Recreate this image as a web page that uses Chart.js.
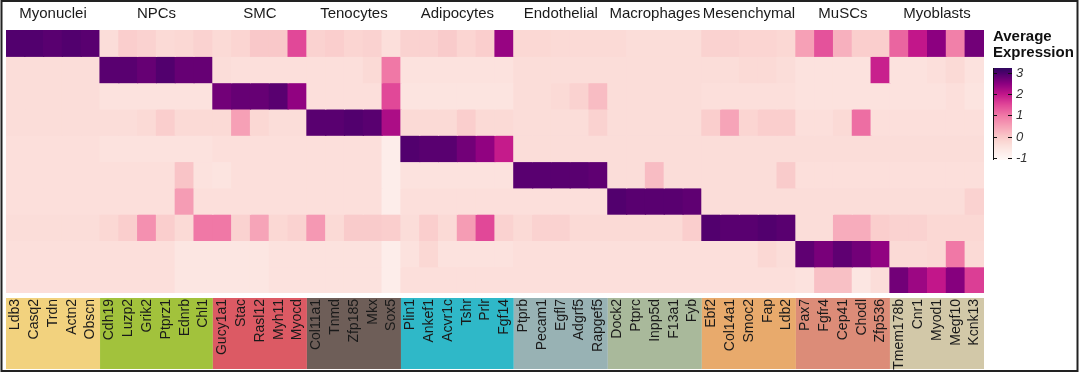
<!DOCTYPE html>
<html>
<head>
<meta charset="utf-8">
<script src="https://cdn.jsdelivr.net/npm/chart.js@4/dist/chart.umd.min.js"></script>
<style>
  html, body { margin: 0; padding: 0; background: #fff; }
  canvas { display: block; }
</style>
</head>
<body>
<canvas id="dotHeat" width="1080" height="376"></canvas>
<script>
// cell types (rows, top to bottom) and gene groups
const cellTypes = ['Myonuclei', 'NPCs', 'SMC', 'Tenocytes', 'Adipocytes', 'Endothelial',
  'Macrophages', 'Mesenchymal', 'MuSCs', 'Myoblasts'];
const groupSizes = [5, 6, 5, 5, 6, 5, 5, 5, 5, 5];
const groupColors = ['#f2d27e', '#a2c23c', '#dc5a64', '#6e5e58', '#2fb8c8',
  '#98b2b4', '#a9b99b', '#e8aa6c', '#dc8c78', '#d2c8a8'];

const genes = [
  'Ldb3', 'Casq2', 'Trdn', 'Actn2', 'Obscn',
  'Cdh19', 'Luzp2', 'Grik2', 'Ptprz1', 'Ednrb', 'Chl1',
  'Gucy1a1', 'Stac', 'Rasl12', 'Myh11', 'Myocd',
  'Col11a1', 'Tnmd', 'Zfp185', 'Mkx', 'Sox5',
  'Plin1', 'Ankef1', 'Acvr1c', 'Tshr', 'Prlr', 'Fgf14',
  'Ptprb', 'Pecam1', 'Egfl7', 'Adgrf5', 'Rapgef5',
  'Dock2', 'Ptprc', 'Inpp5d', 'F13a1', 'Fyb',
  'Ebf2', 'Col14a1', 'Smoc2', 'Fap', 'Ldb2',
  'Pax7', 'Fgfr4', 'Cep41', 'Chodl', 'Zfp536',
  'Tmem178b', 'Cnr1', 'Myod1', 'Megf10', 'Kcnk13'
];

// average expression per cell type, one value per gene (same order as genes)
const exprMyonuclei = [2.95, 2.95, 2.9, 2.95, 2.9,  -0.35, -0.1, -0.15, -0.3, -0.25, -0.15,
  -0.3, -0.2, 0.0, 0.0, 1.5,  -0.15, -0.1, -0.2, -0.15, -0.4,  -0.15, -0.15, -0.05, -0.2, -0.1, 2.4,
  -0.25, -0.25, -0.3, -0.3, -0.3,  -0.3, -0.35, -0.35, -0.35, -0.35,  -0.15, -0.15, -0.2, -0.2, -0.25,
  0.5, 1.4, 0.3, -0.1, -0.1,  1.2, 2.0, 2.5, 0.9, 2.7];
const exprNPCs = [-0.35, -0.35, -0.35, -0.35, -0.35,  2.9, 2.9, 2.8, 2.95, 2.8, 2.8,
  -0.35, -0.4, -0.4, -0.4, -0.4,  -0.4, -0.4, -0.4, -0.3, 1.0,  -0.45, -0.45, -0.45, -0.45, -0.45, -0.45,
  -0.35, -0.35, -0.35, -0.35, -0.35,  -0.35, -0.35, -0.35, -0.35, -0.35,  -0.35, -0.35, -0.3, -0.3, -0.35,
  -0.45, -0.45, -0.45, -0.45, 1.9,  -0.45, -0.45, -0.4, -0.3, -0.45];
const exprSMC = [-0.35, -0.35, -0.35, -0.35, -0.35,  -0.45, -0.45, -0.45, -0.45, -0.45, -0.45,
  2.7, 2.8, 2.8, 2.9, 2.45,  -0.4, -0.4, -0.4, -0.4, 1.5,  -0.5, -0.5, -0.5, -0.5, -0.5, -0.5,
  -0.35, -0.35, -0.3, -0.15, 0.15,  -0.35, -0.35, -0.35, -0.35, -0.35,  -0.4, -0.4, -0.4, -0.4, -0.4,
  -0.45, -0.45, -0.45, -0.45, -0.45,  -0.45, -0.45, -0.45, -0.4, -0.5];
const exprTenocytes = [-0.35, -0.35, -0.35, -0.35, -0.35,  -0.35, -0.35, -0.3, -0.1, -0.3, -0.3,
  -0.3, 0.5, -0.25, -0.35, -0.35,  2.9, 2.9, 2.95, 2.9, 2.2,  -0.3, -0.3, -0.3, -0.1, -0.3, -0.3,
  -0.35, -0.35, -0.35, -0.35, -0.15,  -0.35, -0.35, -0.35, -0.35, -0.35,  -0.1, 0.45, -0.2, -0.1, -0.1,
  -0.4, -0.4, -0.3, 1.1, -0.4,  -0.4, -0.4, -0.4, -0.4, -0.4];
const exprAdipocytes = [-0.4, -0.4, -0.4, -0.4, -0.4,  -0.45, -0.45, -0.45, -0.45, -0.45, -0.45,
  -0.4, -0.4, -0.4, -0.4, -0.4,  -0.4, -0.4, -0.4, -0.4, -0.75,  2.95, 2.9, 2.9, 2.7, 2.45, 1.95,
  -0.35, -0.35, -0.35, -0.35, -0.35,  -0.35, -0.35, -0.35, -0.35, -0.35,  -0.35, -0.35, -0.35, -0.35, -0.35,
  -0.35, -0.35, -0.35, -0.35, -0.35,  -0.35, -0.35, -0.35, -0.35, -0.35];
const exprEndothelial = [-0.4, -0.4, -0.4, -0.4, -0.4,  -0.4, -0.4, -0.4, -0.4, 0.05, -0.45,
  -0.5, -0.4, -0.4, -0.4, -0.4,  -0.4, -0.4, -0.4, -0.4, -0.75,  -0.45, -0.45, -0.45, -0.45, -0.45, -0.45,
  2.9, 2.9, 2.9, 2.9, 2.85,  -0.35, -0.35, 0.15, -0.35, -0.35,  -0.35, -0.35, -0.35, -0.35, -0.05,
  -0.4, -0.4, -0.4, -0.4, -0.4,  -0.4, -0.4, -0.4, -0.4, -0.4];
const exprMacrophages = [-0.4, -0.4, -0.4, -0.4, -0.4,  -0.4, -0.4, -0.4, -0.4, 0.55, -0.4,
  -0.4, -0.4, -0.4, -0.4, -0.4,  -0.4, -0.4, -0.4, -0.4, -0.75,  -0.4, -0.4, -0.4, -0.4, -0.4, -0.4,
  -0.4, -0.4, -0.4, -0.4, -0.4,  2.95, 2.9, 2.9, 2.9, 2.85,  -0.35, -0.35, -0.35, -0.35, -0.35,
  -0.35, -0.35, -0.35, -0.35, -0.35,  -0.35, -0.35, -0.35, -0.35, -0.15];
const exprMesenchymal = [-0.35, -0.35, -0.35, -0.35, -0.35,  -0.25, -0.1, 0.7, -0.1, -0.3, 1.0,
  1.0, -0.15, 0.45, -0.25, -0.15,  0.6, -0.3, -0.05, -0.05, -0.1,  -0.35, -0.1, -0.3, 0.55, 1.5, -0.15,
  -0.3, -0.15, -0.15, -0.3, -0.3,  -0.3, -0.3, -0.3, -0.3, -0.1,  2.95, 2.9, 2.9, 2.95, 2.9,
  -0.35, -0.35, 0.35, 0.35, -0.1,  -0.15, -0.15, -0.25, -0.25, -0.25];
const exprMuSCs = [-0.4, -0.4, -0.4, -0.4, -0.4,  -0.4, -0.4, -0.4, -0.4, -0.55, -0.55,
  -0.55, -0.55, -0.55, -0.45, -0.45,  -0.45, -0.45, -0.45, -0.45, -0.75,  -0.45, -0.25, -0.45, -0.45, -0.45, -0.45,
  -0.4, -0.4, -0.4, -0.4, -0.4,  -0.4, -0.4, -0.4, -0.4, -0.4,  -0.4, -0.4, -0.4, -0.25, -0.35,
  2.85, 2.65, 2.85, 2.7, 2.45,  -0.3, -0.3, -0.25, 1.0, -0.3];
const exprMyoblasts = [-0.4, -0.4, -0.4, -0.4, -0.4,  -0.4, -0.4, -0.4, -0.4, -0.55, -0.55,
  -0.55, -0.55, -0.55, -0.45, -0.45,  -0.45, -0.45, -0.45, -0.45, -0.75,  -0.4, -0.4, -0.4, -0.4, -0.4, -0.4,
  -0.4, -0.4, -0.4, -0.4, -0.4,  -0.4, -0.4, -0.4, -0.4, -0.4,  -0.4, -0.4, -0.4, -0.4, -0.4,
  -0.45, 0.1, 0.1, -0.55, -0.35,  2.7, 2.35, 2.0, 2.55, 1.6];

const exprRows = [exprMyonuclei, exprNPCs, exprSMC, exprTenocytes, exprAdipocytes,
  exprEndothelial, exprMacrophages, exprMesenchymal, exprMuSCs, exprMyoblasts];

const legendTicks = [3, 2, 1, 0, -1];

// colour ramp, white -> pink -> magenta -> dark purple
const ramp = [
  [-1.1, [255, 250, 248]],
  [-0.5, [252, 228, 224]],
  [-0.25, [251, 216, 212]],
  [0, [249, 200, 201]],
  [0.5, [246, 160, 182]],
  [1, [240, 120, 166]],
  [1.5, [225, 72, 152]],
  [2, [194, 22, 138]],
  [2.5, [140, 0, 128]],
  [3, [76, 0, 108]],
  [3.3, [40, 10, 90]]
];

function expColor(v) {
  if (v <= ramp[0][0]) return 'rgb(' + ramp[0][1].join(',') + ')';
  for (let i = 1; i < ramp.length; i++) {
    if (v <= ramp[i][0]) {
      const [v0, c0] = ramp[i - 1];
      const [v1, c1] = ramp[i];
      const t = (v - v0) / (v1 - v0);
      const c = c0.map((a, k) => Math.round(a + (c1[k] - a) * t));
      return 'rgb(' + c.join(',') + ')';
    }
  }
  return 'rgb(' + ramp[ramp.length - 1][1].join(',') + ')';
}

const datasets = exprRows.map((row, r) => ({
  label: cellTypes[r],
  data: genes.map(() => 1),
  backgroundColor: row.map(expColor),
  borderWidth: 0,
  inflateAmount: 0.6,
  barPercentage: 1,
  categoryPercentage: 1
}));

// group start/end indices on the gene axis
const groupRanges = [];
let start = 0;
groupSizes.forEach(n => {
  groupRanges.push([start, start + n - 1]);
  start += n;
});

const heatDecor = {
  id: 'heatDecor',
  beforeDraw(chart) {
    const ctx = chart.ctx;
    const x = chart.scales.x;
    const half = (x.getPixelForValue(1) - x.getPixelForValue(0)) / 2;
    ctx.save();
    groupRanges.forEach(([a, b], i) => {
      const x0 = x.getPixelForValue(a) - half;
      const x1 = x.getPixelForValue(b) + half;
      ctx.fillStyle = groupColors[i];
      ctx.fillRect(x0, chart.chartArea.bottom + 5, x1 - x0, 71);
    });
    ctx.restore();
  },
  afterDraw(chart) {
    const ctx = chart.ctx;
    const x = chart.scales.x;
    const area = chart.chartArea;
    ctx.save();

    // cell type names above the heatmap
    ctx.fillStyle = '#1a1a1a';
    ctx.font = '15px "Liberation Sans", Arial, sans-serif';
    ctx.textAlign = 'center';
    ctx.textBaseline = 'middle';
    groupRanges.forEach(([a, b], i) => {
      const cx = (x.getPixelForValue(a) + x.getPixelForValue(b)) / 2;
      ctx.fillText(cellTypes[i], cx, 14);
    });

    // legend title
    const lx = area.right + 9;
    ctx.textAlign = 'left';
    ctx.font = 'bold 15px "Liberation Sans", Arial, sans-serif';
    ctx.fillStyle = '#111';
    ctx.fillText('Average', lx, 37);
    ctx.fillText('Expression', lx, 53);

    // colour bar
    const barTop = 68, barBot = 160, barW = 19;
    const vTop = 3.24, vBot = -1.1;
    const yOf = v => barTop + (vTop - v) / (vTop - vBot) * (barBot - barTop);
    for (let y = barTop; y < barBot; y++) {
      const v = vTop - (y + 0.5 - barTop) / (barBot - barTop) * (vTop - vBot);
      ctx.fillStyle = expColor(v);
      ctx.fillRect(lx, y, barW, 1);
    }
    ctx.strokeStyle = '#111';
    ctx.lineWidth = 1;
    ctx.beginPath();
    ctx.moveTo(lx + 0.5, barTop);
    ctx.lineTo(lx + 0.5, barBot);
    ctx.stroke();
    ctx.font = 'italic 13px "Liberation Sans", Arial, sans-serif';
    ctx.fillStyle = '#333';
    legendTicks.forEach(t => {
      const y = Math.round(yOf(t)) + 0.5;
      ctx.beginPath();
      ctx.moveTo(lx, y); ctx.lineTo(lx + 4, y);
      ctx.moveTo(lx + barW - 4, y); ctx.lineTo(lx + barW, y);
      ctx.stroke();
      ctx.fillText(String(t), lx + barW + 4, y);
    });

    // outer frame
    ctx.strokeStyle = '#222';
    ctx.lineWidth = 2;
    ctx.strokeRect(1.5, 1, 1076, 370);
    ctx.restore();
  }
};

new Chart(document.getElementById('dotHeat'), {
  type: 'bar',
  data: { labels: genes, datasets: datasets },
  options: {
    responsive: false,
    animation: false,
    devicePixelRatio: 1,
    layout: { padding: { left: 6, right: 96, top: 30, bottom: 0 } },
    plugins: { legend: { display: false }, tooltip: { enabled: false } },
    scales: {
      x: {
        stacked: true,
        grid: { display: false, drawTicks: false },
        border: { display: false },
        ticks: {
          autoSkip: false,
          maxRotation: 90,
          minRotation: 90,
          padding: 6,
          color: '#1a1a1a',
          font: { family: '"Liberation Sans", Arial, sans-serif', size: 14 }
        },
        afterFit(scale) { scale.height = 83; }
      },
      y: {
        stacked: true,
        display: false,
        min: 0,
        max: cellTypes.length,
        reverse: true
      }
    }
  },
  plugins: [heatDecor]
});
</script>
</body>
</html>
